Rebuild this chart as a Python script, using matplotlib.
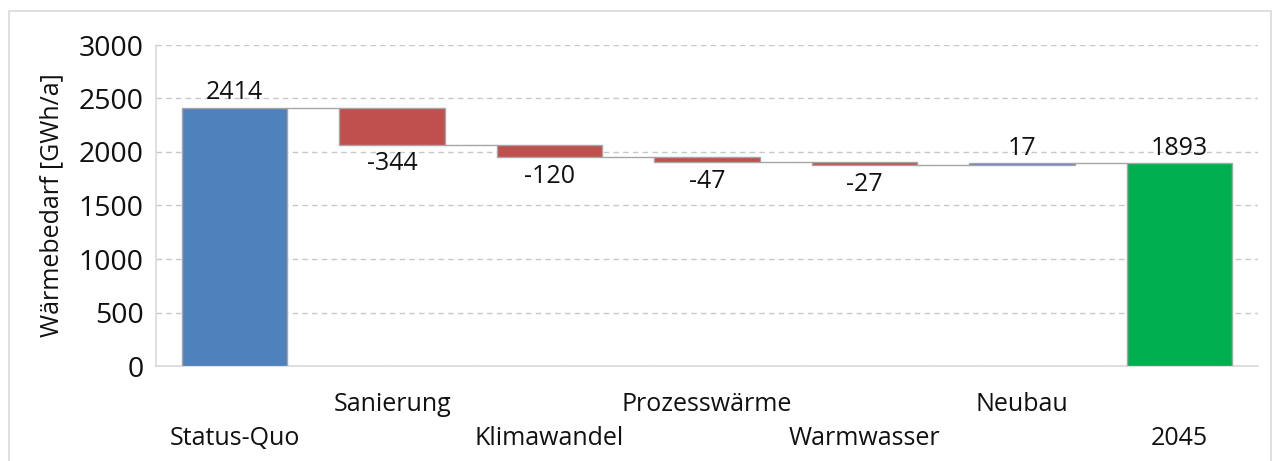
import matplotlib.pyplot as plt
import matplotlib.patches as patches
import matplotlib.transforms as mtransforms
import numpy as np

plt.rcParams['font.family'] = ['Open Sans', 'DejaVu Sans']

categories = ['Status-Quo', 'Sanierung', 'Klimawandel', 'Prozesswärme',
              'Warmwasser', 'Neubau', '2045']
values = [2414, -344, -120, -47, -27, 17, 1893]
is_total = [True, False, False, False, False, False, True]

blue = '#4F81BD'
red = '#C0504D'
green = '#00B050'
edge = '#A6A6A6'

fig = plt.figure(figsize=(12.78, 4.61), dpi=100)
fig.patches.append(patches.Rectangle((9 / 1278, -0.05), 1262 / 1278, 1 - 11 / 461 + 0.05,
                                     transform=fig.transFigure, fill=False,
                                     edgecolor='#D9D9D9', linewidth=1.2))
ax = fig.add_axes([156 / 1278, (461 - 366) / 461, (1258 - 156) / 1278, (366 - 45) / 461])

x = np.arange(len(categories))
width = 0.67
running = 0
bottoms, heights, colors = [], [], []
for i, v in enumerate(values):
    if is_total[i]:
        bottoms.append(0)
        heights.append(v)
        colors.append(blue if i == 0 else green)
        running = v
    else:
        if v < 0:
            bottoms.append(running + v)
            heights.append(-v)
            colors.append(red)
        else:
            bottoms.append(running)
            heights.append(v)
            colors.append(blue)
        running += v

ax.bar(x, heights, width, bottom=bottoms, color=colors, edgecolor=edge, linewidth=1, zorder=3)

# connectors
level = 0
for i, v in enumerate(values[:-1]):
    level = v if is_total[i] else level + v
    ax.plot([x[i] + width / 2, x[i + 1] - width / 2], [level, level],
            color=edge, linewidth=1, zorder=2)

# data labels
for i, v in enumerate(values):
    top = bottoms[i] + heights[i]
    if v >= 0:
        ax.text(x[i], top + 25, str(v), ha='center', va='bottom', fontsize=18, color='#111111', zorder=4)
    else:
        ax.text(x[i], bottoms[i] - 60, str(v), ha='center', va='top', fontsize=18, color='#111111', zorder=4)

ax.set_xlim(-0.5, len(categories) - 0.5)
ax.set_ylim(0, 3000)
ax.set_yticks(np.arange(0, 3001, 500))
ax.tick_params(axis='y', length=0, labelsize=20.5, pad=9, labelcolor='#111111')
ax.tick_params(axis='x', length=0)
ax.set_xticks([])
ax.yaxis.grid(True, linestyle=(0, (4, 3)), color='#C8C8C8', linewidth=1, zorder=0)
ax.set_axisbelow(True)
for s in ['top', 'right']:
    ax.spines[s].set_visible(False)
ax.spines['left'].set_color('#D9D9D9')
ax.spines['bottom'].set_color('#D9D9D9')
ax.spines['left'].set_linewidth(1.2)
ax.spines['bottom'].set_linewidth(1.2)

ax.set_ylabel('Wärmebedarf [GWh/a]', fontsize=18, labelpad=10, color='#111111')

# staggered category labels
for i, c in enumerate(categories):
    y_px = 438 if i % 2 == 0 else 404
    off = mtransforms.ScaledTranslation(0, -(y_px - 366) / 100, fig.dpi_scale_trans)
    ax.text(x[i], 0, c, ha='center', va='center', fontsize=18, color='#111111',
            transform=ax.get_xaxis_transform() + off)

fig.savefig('out.png', dpi=100)
